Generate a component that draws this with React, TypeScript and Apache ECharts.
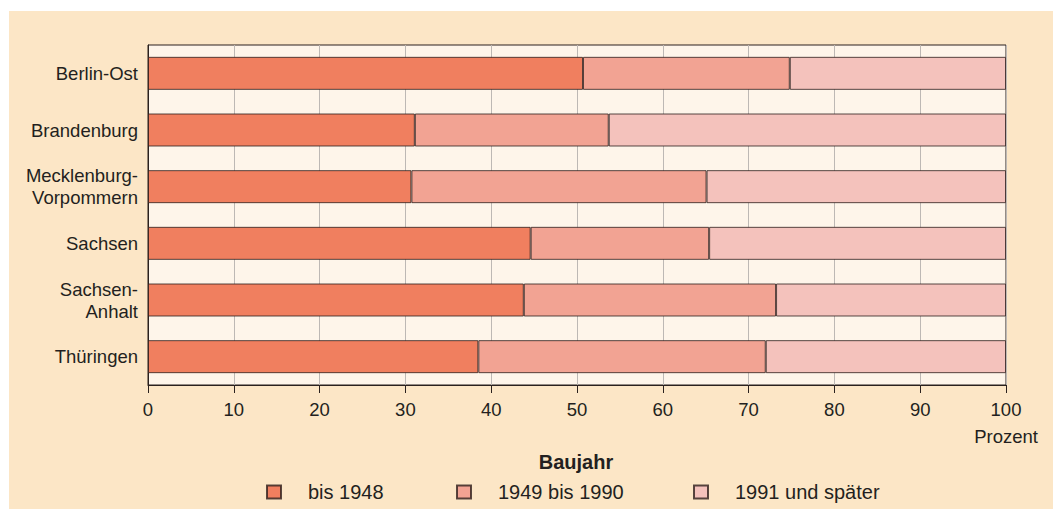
import React, { useEffect, useRef } from "react";
import * as echarts from "echarts";

const categories = ["Berlin-Ost", "Brandenburg", "Mecklenburg-\nVorpommern", "Sachsen", "Sachsen-\nAnhalt", "Thüringen"];
const bis1948 = [50.7, 31.1, 30.7, 44.6, 43.8, 38.5];
const bis1990 = [24.1, 22.6, 34.4, 20.8, 29.4, 33.5];
const ab1991 = [25.2, 46.3, 34.9, 34.6, 26.8, 28.0];
const seriesNames = ["bis 1948", "1949 bis 1990", "1991 und später"];
const xTicks = { min: 0, max: 100, interval: 10 };

const colors = ["#F07F5F", "#F2A393", "#F4C2BC"];
const textColor = "#231f20";
const font = "'Liberation Sans', Arial, sans-serif";

export default function App() {
  const ref = useRef<HTMLDivElement>(null);
  useEffect(() => {
    if (!ref.current) return;
    const chart = echarts.init(ref.current, null, { renderer: "svg" });
    const values = [bis1948, bis1990, ab1991];
    const legendLeft = [266, 456, 693];
    chart.setOption({
      animation: false,
      textStyle: { fontFamily: font, color: textColor },
      grid: {
        left: 148,
        right: 47,
        top: 45,
        bottom: 124,
        show: true,
        backgroundColor: "#FEF5EA",
        borderColor: "#2a211e",
        borderWidth: 1,
      },
      legend: seriesNames.map((n, i) => ({
        data: [n],
        left: legendLeft[i],
        top: 482,
        padding: 0,
        itemWidth: 14,
        itemHeight: 13,
        icon: "rect",
        selectedMode: false,
        textStyle: { fontFamily: font, fontSize: 20, color: textColor, padding: [0, 0, 0, 22] },
      })),
      xAxis: {
        type: "value",
        min: xTicks.min,
        max: xTicks.max,
        interval: xTicks.interval,
        axisLine: { show: true, lineStyle: { color: "#2a211e", width: 1 } },
        axisTick: { show: true, length: 8, lineStyle: { color: "#2a211e" } },
        axisLabel: { fontSize: 18.5, color: textColor, margin: 15, fontFamily: font },
        splitLine: { show: true, lineStyle: { color: "#bdb8b4", width: 1 } },
      },
      yAxis: {
        type: "category",
        data: categories,
        inverse: true,
        axisLine: { show: true, lineStyle: { color: "#2a211e", width: 1 } },
        axisTick: { show: false },
        axisLabel: { fontSize: 18.5, color: textColor, margin: 10, lineHeight: 22, fontFamily: font, align: "right" },
        splitLine: { show: false },
      },
      series: seriesNames.map((n, i) => ({
        name: n,
        type: "bar",
        stack: "total",
        barWidth: 33,
        data: values[i],
        itemStyle: { color: colors[i], borderColor: "rgba(45,30,28,0.8)", borderWidth: 1 },
        emphasis: { disabled: true },
      })),
      graphic: [
        {
          type: "text",
          x: 1006,
          y: 436,
          style: { text: "Prozent", fontSize: 18.5, fill: textColor, fontFamily: font, align: "center", verticalAlign: "middle" },
        },
        {
          type: "text",
          x: 576,
          y: 462,
          style: { text: "Baujahr", fontSize: 20, fontWeight: "bold", fill: textColor, fontFamily: font, align: "center", verticalAlign: "middle" },
        },
      ],
    });
    return () => chart.dispose();
  }, []);
  return (
    <div style={{ position: "fixed", left: 0, top: 0, width: 1053, height: 509, background: "#ffffff" }}>
      <div style={{ position: "absolute", left: 9, top: 11, width: 1044, height: 498, background: "#FCE6C6" }} />
      <div ref={ref} style={{ position: "absolute", left: 0, top: 0, width: 1053, height: 509 }} />
    </div>
  );
}
